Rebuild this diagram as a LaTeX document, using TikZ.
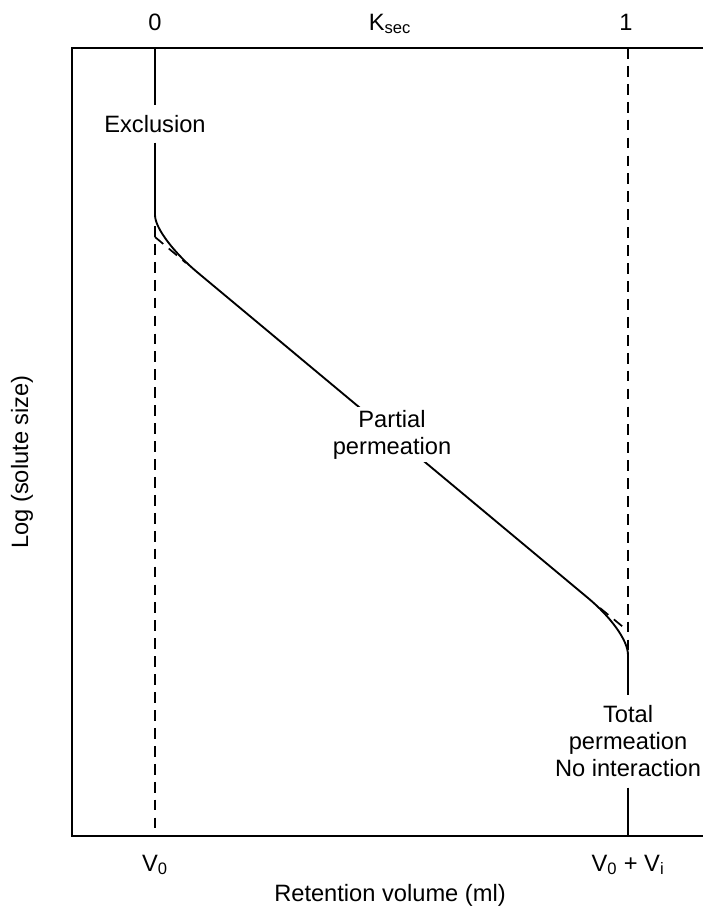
\documentclass[tikz,border=0pt]{standalone}
\usepackage{fontspec}
\setmainfont{Liberation Sans}
\usepackage{tikz}

\tikzset{lbl/.style={inner sep=0pt, font=\fontsize{16.5}{19}\selectfont},
         curve/.style={line width=1.3pt},
         guide/.style={line width=1.2pt, dash pattern=on 7.5pt off 5pt}}

\begin{document}
\begin{tikzpicture}[x=0.0245cm,y=-0.0245cm]
\useasboundingbox (0,0) rectangle (703,908);
% frame
\draw[curve] (703,48) -- (72,48) -- (72,836) -- (703,836);
% key points
\coordinate (top0) at (155,48);
\coordinate (bot0) at (155,836);
\coordinate (top1) at (628,48);
\coordinate (bot1) at (628,836);
\coordinate (knee1) at (155,215);
\coordinate (dash0) at (155,226);
\coordinate (a) at (197,272);
\coordinate (b) at (588,598);
\coordinate (knee2) at (628,655);
\coordinate (dash1) at (628,652);
\coordinate (tan0) at (155,237);
\coordinate (tan0e) at (186,263);
\coordinate (tan1) at (600,608);
\coordinate (tan1e) at (628,631);
% labels
\node[lbl,anchor=base] (k0) at (155,30) {0};
\node[lbl,anchor=base] (ksec) at (390,30) {K\textsubscript{sec}};
\node[lbl,anchor=base] (k1) at (626,30) {1};
\node[lbl,anchor=base,inner ysep=7pt] (excl) at (155,132) {Exclusion};
\node[lbl,anchor=north,align=center,inner ysep=7pt] (total) at (628,695) {Total\\permeation\\No interaction};
\node[lbl,anchor=base] (v0) at (155,871) {V\textsubscript{0}};
\node[lbl,anchor=base] (v0vi) at (628,871) {V\textsubscript{0} + V\textsubscript{i}};
\node[lbl,anchor=base] (xlab) at (390,901) {Retention volume (ml)};
\node[lbl,rotate=90] (ylab) at (22,462) {Log (solute size)};
% exclusion limits
\draw[curve] (top0) -- (excl.north);
\draw[curve] (excl.south) -- (knee1);
\draw[guide] (dash0) -- (bot0);
\draw[guide] (top1) -- (dash1);
\draw[curve] (knee2) -- (total.north);
\draw[curve] (total.south) -- (bot1);
% calibration curve
\draw[curve] (knee1) .. controls (155,229) and (176,254.5) .. (a) -- (b)
  .. controls (610,616.3) and (628,640) .. (knee2);
\draw[guide] (tan0) -- (tan0e);
\draw[guide] (tan1) -- (tan1e);
\node[lbl,anchor=north,align=center,fill=white,inner sep=2pt] (part) at (392,407) {Partial\\permeation};
\end{tikzpicture}
\end{document}
